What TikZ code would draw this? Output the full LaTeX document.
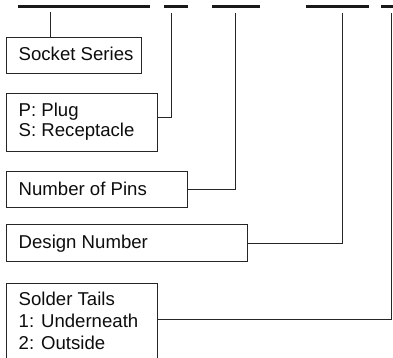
\documentclass[tikz,border=0pt]{standalone}
\usepackage{fontspec}
\setmainfont{Liberation Sans}
\begin{document}
\begin{tikzpicture}[x=1pt,y=-1pt,
  bar/.style={line width=2.8pt, draw=black!90},
  box/.style={draw=black!85, line width=1.1pt, inner sep=0pt, anchor=north west},
  lbl/.style={anchor=base west, inner sep=0pt, text=black!95, font=\fontsize{18.6}{21.5}\selectfont},
  conn/.style={draw=black!85, line width=1pt}]
\clip (0,0) rectangle (393,358);
% top bars
\coordinate (b1a) at (18,6.3);  \coordinate (b1b) at (150,6.3);
\coordinate (b2a) at (164,6.3); \coordinate (b2b) at (188,6.3);
\coordinate (b3a) at (212,6.3); \coordinate (b3b) at (260,6.3);
\coordinate (b4a) at (306,6.3); \coordinate (b4b) at (369,6.3);
\coordinate (b5a) at (381,6.3); \coordinate (b5b) at (396,6.3);
\draw[bar] (b1a) -- (b1b);
\draw[bar] (b2a) -- (b2b);
\draw[bar] (b3a) -- (b3b);
\draw[bar] (b4a) -- (b4b);
\draw[bar] (b5a) -- (b5b);
% boxes
\node[box, minimum width=135pt, minimum height=35.7pt] (box1) at (6,37) {};
\node[box, minimum width=151pt, minimum height=57.7pt] (box2) at (6,93.3) {};
\node[box, minimum width=181pt, minimum height=35.7pt] (box3) at (6,171) {};
\node[box, minimum width=241pt, minimum height=36.4pt] (box4) at (6,224.3) {};
\node[box, minimum width=151pt, minimum height=85pt] (box5) at (6,282.7) {};
% labels
\node[lbl] (t1) at (18.5,60.7) {Socket Series};
\node[lbl] (t2a) at (18.5,116.7) {P: Plug};
\node[lbl] (t2b) at (18.5,136.9) {S: Receptacle};
\node[lbl] (t3) at (18.5,195) {Number of Pins};
\node[lbl] (t4) at (18.5,248.3) {Design Number};
\node[lbl] (t5a) at (18.5,305) {Solder Tails};
\node[lbl] (t5b) at (18.5,327) {1: Underneath};
\node[lbl] (t5c) at (18.5,349) {2: Outside};
% connector tops
\coordinate (c1) at (50,12.3);
\coordinate (c2) at (171,13.3);
\coordinate (c3) at (235,13.3);
\coordinate (c4) at (342,13.3);
\coordinate (c5) at (391.5,13.3);
% connectors
\draw[conn] (c1) -- (box1.north west -| c1);
\draw[conn] (box2.east |- 0,118) -- (171,118) -- (c2);
\draw[conn] (box3.east |- 0,189) -- (235,189) -- (c3);
\draw[conn] (box4.east |- 0,243.3) -- (342,243.3) -- (c4);
\draw[conn] (box5.east |- 0,319.3) -- (391.5,319.3) -- (c5);
\end{tikzpicture}
\end{document}
